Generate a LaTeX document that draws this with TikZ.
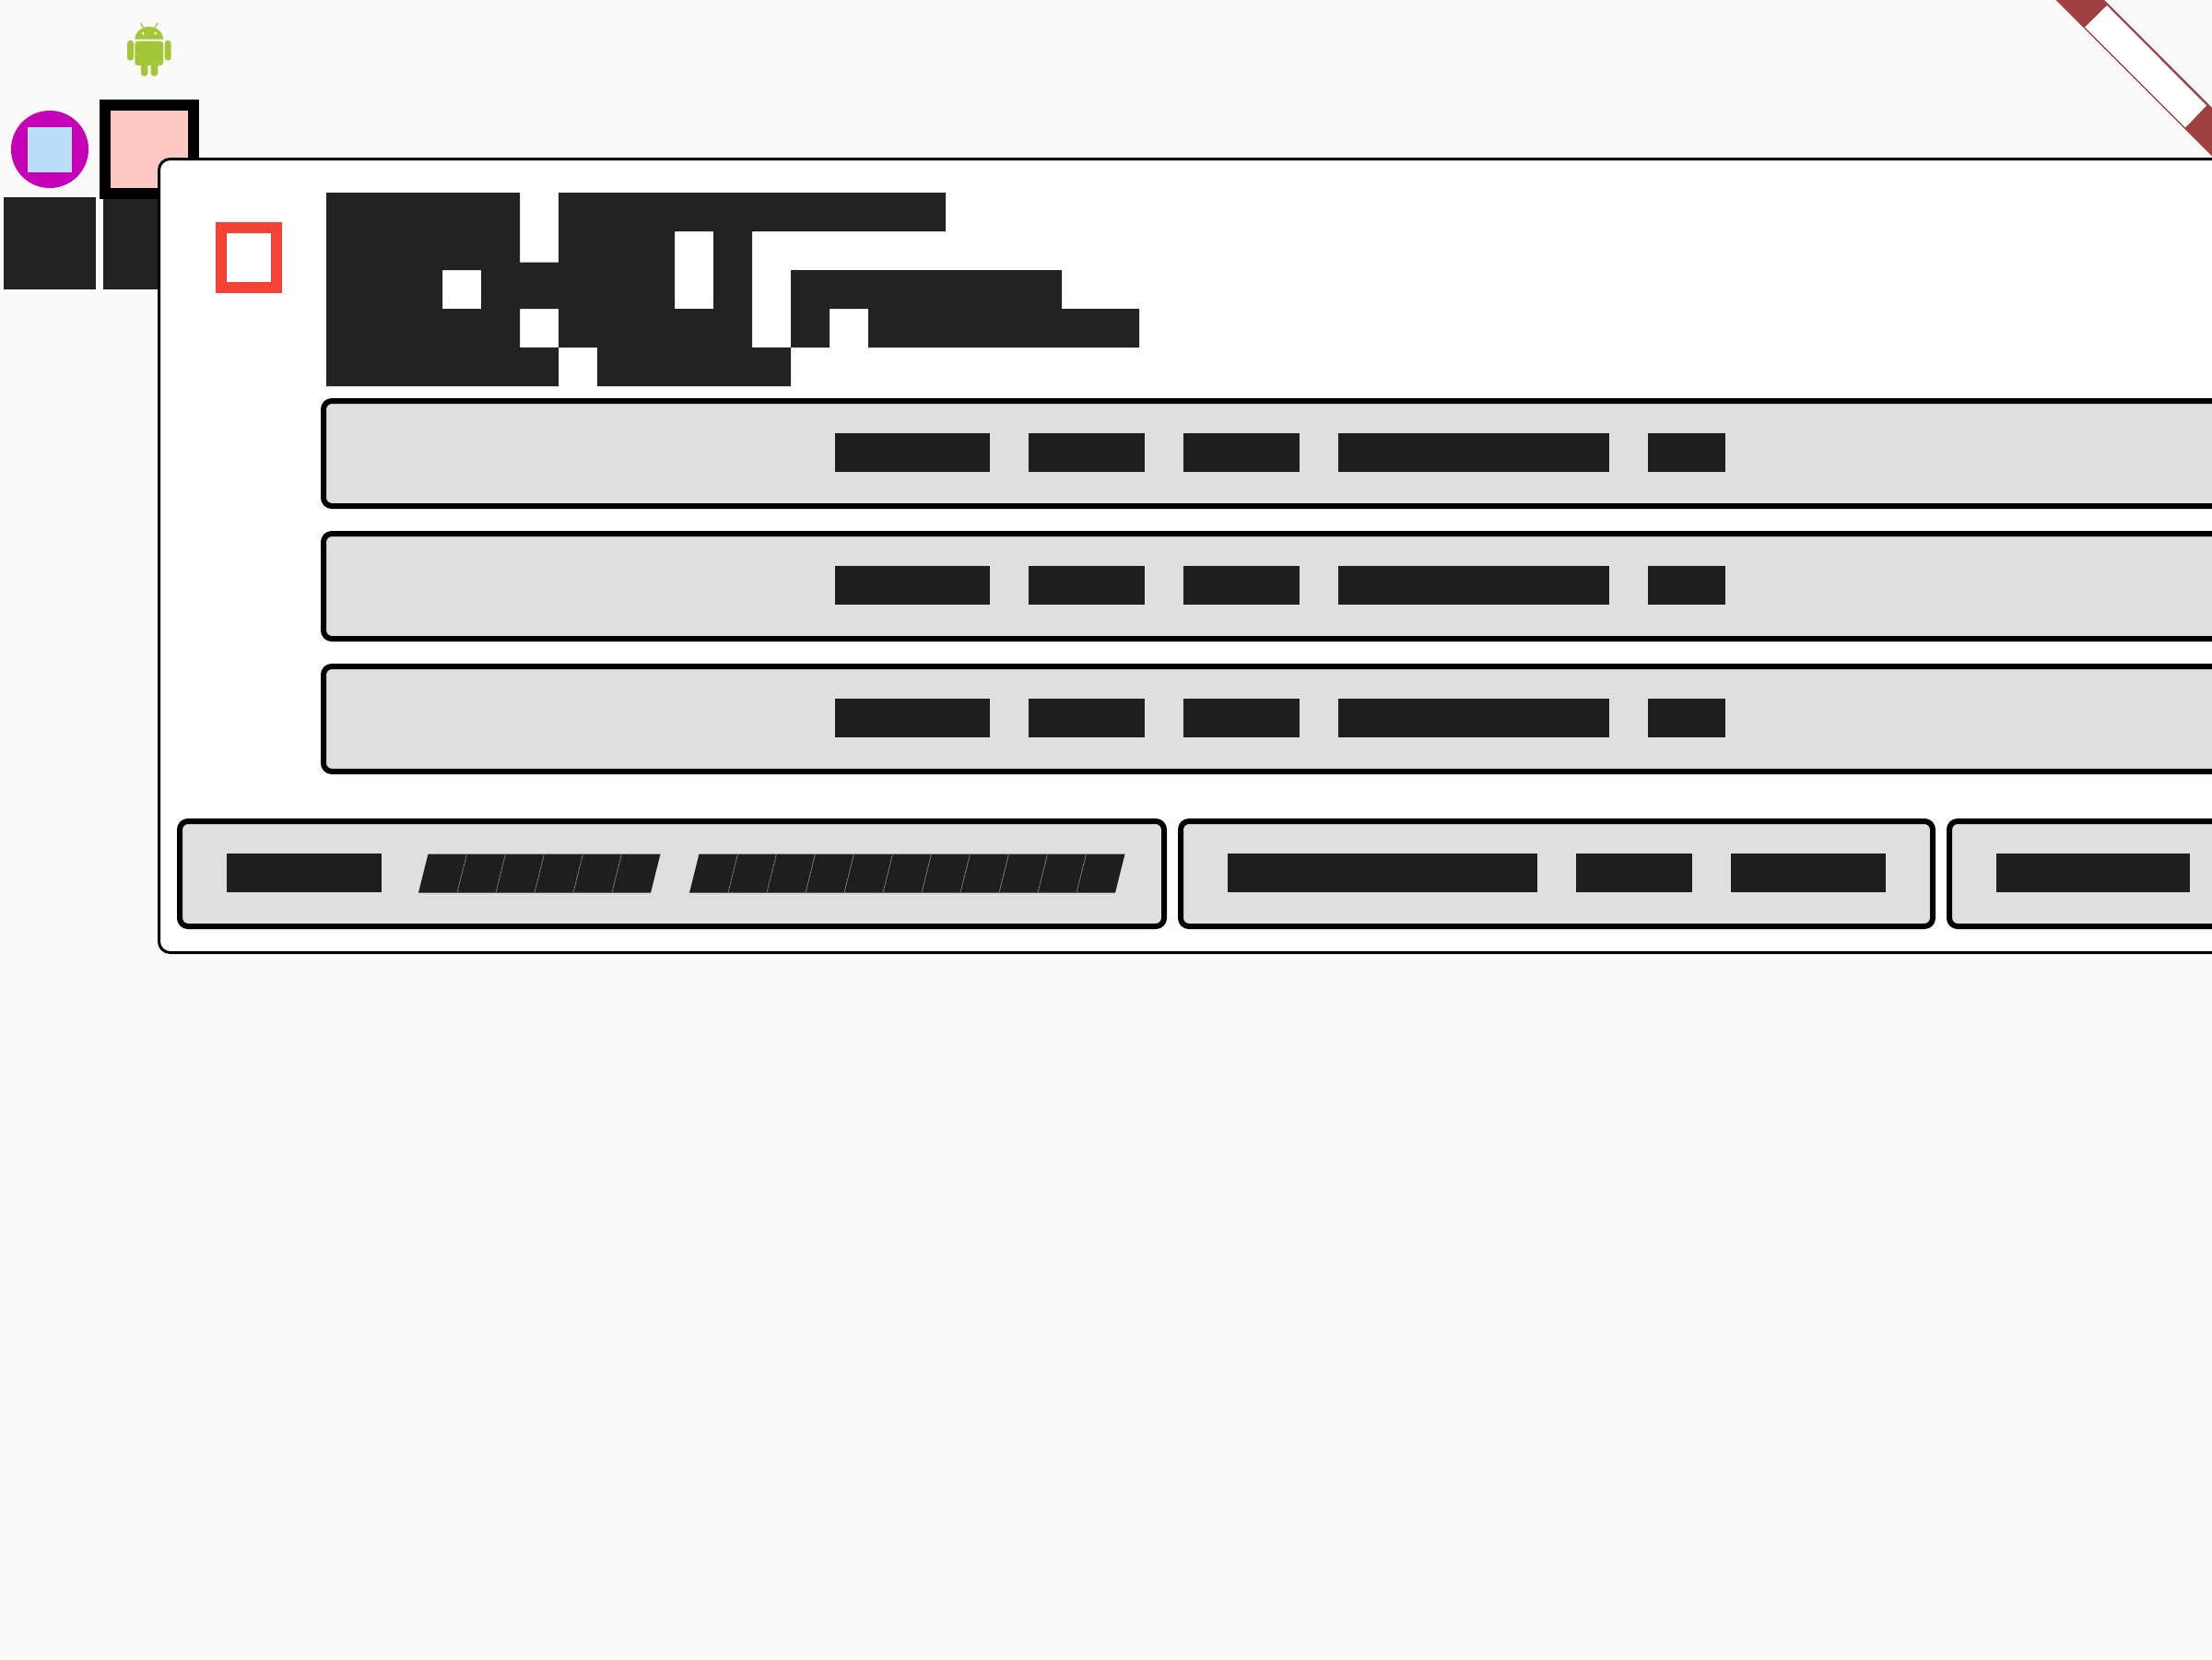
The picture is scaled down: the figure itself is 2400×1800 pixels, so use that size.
\documentclass[tikz,border=0pt]{standalone}
\definecolor{pagebg}{HTML}{FAFAFA}
\definecolor{droid}{HTML}{A4C639}
\definecolor{ringmag}{HTML}{C600B6}
\definecolor{paleblue}{HTML}{BBDEFB}
\definecolor{palepink}{HTML}{FEC8C4}
\definecolor{inkdark}{HTML}{222222}
\definecolor{inkblock}{HTML}{1E1E1E}
\definecolor{btngray}{HTML}{DFDFDF}
\definecolor{alarm}{HTML}{F44336}
\definecolor{ribbon}{HTML}{A04040}
\definecolor{seam}{HTML}{808080}
\tikzset{
  x=0.5bp,y=-0.5bp,
  droidpart/.style={fill=droid,draw=none},
  darksquare/.style={fill=inkdark,draw=none},
  glyph/.style={fill=inkblock,draw=none},
  btnbox/.style={fill=btngray,draw=black,line width=3bp,rounded corners=4.5bp},
  panelbox/.style={fill=white,draw=black,line width=1.5bp,rounded corners=6bp},
  seamline/.style={draw=seam,line width=0.35bp},
}
\newcommand{\slanted}[2]{% left-bottom x, number of glyph cells
  \fill[glyph] (#1,968.5) -- (#1+10.5,926.5) -- ({#1+42*#2+10.5},926.5) -- ({#1+42*#2},968.5) -- cycle;
  \foreach \k in {1,...,\numexpr#2-1\relax}{
    \draw[seamline] ({#1+42*\k},968.5) -- ({#1+42*\k+10.5},926.5);
  }
}
\begin{document}
\begin{tikzpicture}
\useasboundingbox (0,0) rectangle (2400,1800);
\clip (0,0) rectangle (2400,1800);
\fill[pagebg] (0,0) rectangle (2400,1800);

% ribbon in the top right corner
\fill[ribbon] (2230.5,0) -- (2283,0) -- (2400,117) -- (2400,169.5) -- cycle;
\fill[white] (2262,29.5) -- (2286,6) -- (2394,114.5) -- (2371,138.5) -- cycle;

% android mark
\fill[droidpart] (146.3,42.7) arc[x radius=15.35,y radius=13.7,start angle=180,end angle=360] -- cycle;
\fill[droidpart,rounded corners=1.5bp] (146.3,44.7) -- (177,44.7) -- (177,71) -- (146.3,71) -- cycle;
\fill[droidpart,rounded corners=1.7bp] (138,43.7) rectangle (145,65.7);
\fill[droidpart,rounded corners=1.7bp] (178.7,43.7) rectangle (185.7,65.7);
\fill[droidpart,rounded corners=1.7bp] (153,65) rectangle (160.3,82.7);
\fill[droidpart,rounded corners=1.7bp] (163.7,65) rectangle (171.3,82.7);
\draw[droid,line width=0.6bp] (156.5,31) -- (152.3,25);
\draw[droid,line width=0.6bp] (167,31) -- (171.3,25);
\fill[pagebg] (155.2,36.3) circle[radius=1.6];
\fill[pagebg] (168.8,36.3) circle[radius=1.6];

% circle with square
\fill[ringmag] (54,162) circle[radius=42];
\fill[paleblue] (30,138) rectangle (78,187);

% dark squares
\fill[darksquare] (4,214.3) rectangle (104.3,314.3);
\fill[darksquare] (112,214.3) rectangle (212,314.3);

% pink square
\draw[fill=palepink,draw=black,line width=6bp] (114,114) rectangle (210,210);

% panel
\draw[panelbox] (172.5,172.5) rectangle (2500,1033.5);

% red hollow square
\draw[draw=alarm,fill=white,line width=6bp] (240,247) rectangle (300,312);

% title glyphs
\fill[inkdark,even odd rule]
  (354,209) -- (564,209) -- (564,284.7) -- (606,284.7) -- (606,209) -- (1026,209) -- (1026,251)
  -- (816,251) -- (816,377) -- (858,377) -- (858,419) -- (648,419) -- (648,377) -- (606,377)
  -- (606,335) -- (564,335) -- (564,377) -- (606,377) -- (606,419) -- (354,419) -- cycle
  (480,293) rectangle (522,335)
  (732,251) rectangle (774,335);
\fill[inkdark] (858,293) -- (1152,293) -- (1152,335) -- (1236,335) -- (1236,377) -- (942,377)
  -- (942,335) -- (900,335) -- (900,377) -- (858,377) -- cycle;

% three wide rows
\foreach \rowtop in {432,576,720}{
  \draw[btnbox] (351,\rowtop+3) rectangle (2500,\rowtop+117);
  \foreach \xa/\xb in {906/1074,1116/1242,1284/1410,1452/1746,1788/1872}{
    \fill[glyph] (\xa,\rowtop+38) rectangle (\xb,\rowtop+80);
  }
}

% bottom row of buttons
\draw[btnbox] (195,891) rectangle (1263,1005);
\draw[btnbox] (1281,891) rectangle (2097,1005);
\draw[btnbox] (2115,891) rectangle (2500,1005);
\foreach \xa/\xb in {246/414,1332/1668,1710/1836,1878/2046,2166/2376}{
  \fill[glyph] (\xa,926) rectangle (\xb,968);
}
\slanted{454}{6}
\slanted{748}{11}
\end{tikzpicture}
\end{document}
